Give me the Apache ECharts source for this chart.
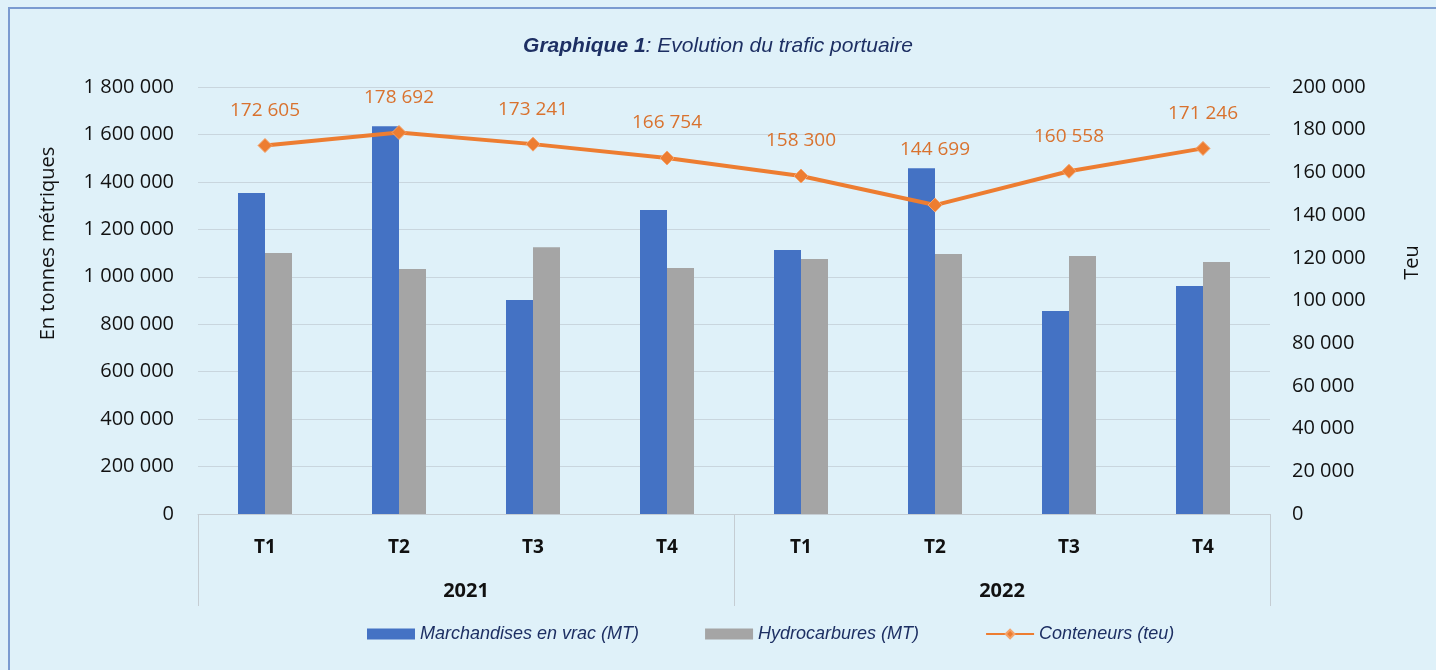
<!DOCTYPE html>
<html>
<head>
<meta charset="utf-8">
<script src="https://cdn.jsdelivr.net/npm/echarts@6/dist/echarts.min.js"></script>
<style>
  html, body { margin: 0; padding: 0; background: #dff1f9; }
  #chart { width: 1436px; height: 670px; }
</style>
</head>
<body>
<div id="chart"></div>
<script>
// données du graphique
var trimestres = ['T1', 'T2', 'T3', 'T4', 'T1', 'T2', 'T3', 'T4'];
var annees = ['2021', '2022'];
var vrac = [1353000, 1635000, 902000, 1281000, 1113000, 1458000, 856000, 961000];
var hydrocarbures = [1100000, 1033000, 1125000, 1037000, 1075000, 1096000, 1088000, 1062000];
var conteneurs = [172605, 178692, 173241, 166754, 158300, 144699, 160558, 171246];

// séparateur de milliers avec espace
function fmt(v) {
  return String(v).replace(/\B(?=(\d{3})+(?!\d))/g, ' ');
}

var chart = echarts.init(document.getElementById('chart'));
var navy = '#1d2f63';
var axisFont = 'Open Sans';

chart.setOption({
  backgroundColor: '#dff1f9',
  animation: false,
  graphic: [{
    type: 'rect',
    shape: { x: 9, y: 8, width: 1450, height: 700 },
    style: { fill: 'none', stroke: '#7b9bd0', lineWidth: 2 }
  }],
  title: {
    text: '{b|Graphique 1}{n|: Evolution du trafic portuaire}',
    left: 'center',
    top: 31,
    textStyle: {
      fontWeight: 'normal',
      rich: {
        b: { fontFamily: 'Liberation Sans', fontSize: 21, fontWeight: 'bold', fontStyle: 'italic', color: navy },
        n: { fontFamily: 'Liberation Sans', fontSize: 21, fontWeight: 'normal', fontStyle: 'italic', color: navy }
      }
    }
  },
  legend: {
    bottom: 22,
    left: 362,
    itemGap: 66,
    itemWidth: 48,
    itemHeight: 11,
    textStyle: { fontFamily: 'Liberation Sans', fontStyle: 'italic', fontSize: 18, color: navy },
    data: [
      { name: 'Marchandises en vrac (MT)', icon: 'rect' },
      { name: 'Hydrocarbures (MT)', icon: 'rect' },
      { name: 'Conteneurs (teu)' }
    ]
  },
  grid: { left: 198, right: 166, top: 87, bottom: 156 },
  xAxis: [{
    type: 'category',
    data: trimestres,
    axisLine: { lineStyle: { color: '#c5cdd3', width: 1 } },
    axisTick: { show: false },
    axisLabel: { margin: 24, fontFamily: axisFont, fontWeight: 'bold', fontSize: 19, color: '#111' }
  }, {
    type: 'category',
    position: 'bottom',
    data: annees,
    axisLine: { show: false },
    axisTick: { show: true, length: 92, lineStyle: { color: '#c5cdd3' } },
    axisLabel: { margin: 67, fontFamily: axisFont, fontWeight: 'bold', fontSize: 20, color: '#111' }
  }],
  yAxis: [{
    type: 'value',
    min: 0,
    max: 1800000,
    interval: 200000,
    name: 'En tonnes métriques',
    nameLocation: 'middle',
    nameRotate: 90,
    nameGap: 140,
    nameTextStyle: { fontFamily: axisFont, fontSize: 20, color: '#111', padding: [0, 0, 0, 114] },
    axisLabel: { margin: 24, fontFamily: axisFont, fontSize: 20, color: '#111', formatter: fmt },
    splitLine: { lineStyle: { color: '#c9d6de' } }
  }, {
    type: 'value',
    min: 0,
    max: 200000,
    interval: 20000,
    name: 'Teu',
    nameLocation: 'middle',
    nameRotate: 90,
    nameGap: 132,
    nameTextStyle: { fontFamily: axisFont, fontSize: 20, color: '#111', padding: [0, 0, 0, 76] },
    axisLabel: { margin: 22, fontFamily: axisFont, fontSize: 20, color: '#111', formatter: fmt },
    splitLine: { show: false }
  }],
  series: [{
    name: 'Marchandises en vrac (MT)',
    type: 'bar',
    data: vrac,
    barWidth: 27,
    barGap: '0%',
    itemStyle: { color: '#4472c4' }
  }, {
    name: 'Hydrocarbures (MT)',
    type: 'bar',
    data: hydrocarbures,
    barWidth: 27,
    barGap: '0%',
    itemStyle: { color: '#a5a5a5' }
  }, {
    name: 'Conteneurs (teu)',
    type: 'line',
    yAxisIndex: 1,
    // le libellé du creux (T2 2022) est placé plus haut, au-dessus de la barre
    data: conteneurs.map(function (v, i) {
      return i === 5 ? { value: v, label: { distance: 38 } } : v;
    }),
    symbol: 'diamond',
    symbolSize: 14,
    lineStyle: { color: '#ed7d31', width: 4 },
    itemStyle: { color: '#ed7d31', borderColor: '#f4a36b', borderWidth: 1 },
    label: {
      show: true,
      position: 'top',
      distance: 18,
      fontFamily: axisFont,
      fontSize: 19,
      color: '#d9722e',
      formatter: function (p) { return fmt(p.value); }
    }
  }]
});
</script>
</body>
</html>
